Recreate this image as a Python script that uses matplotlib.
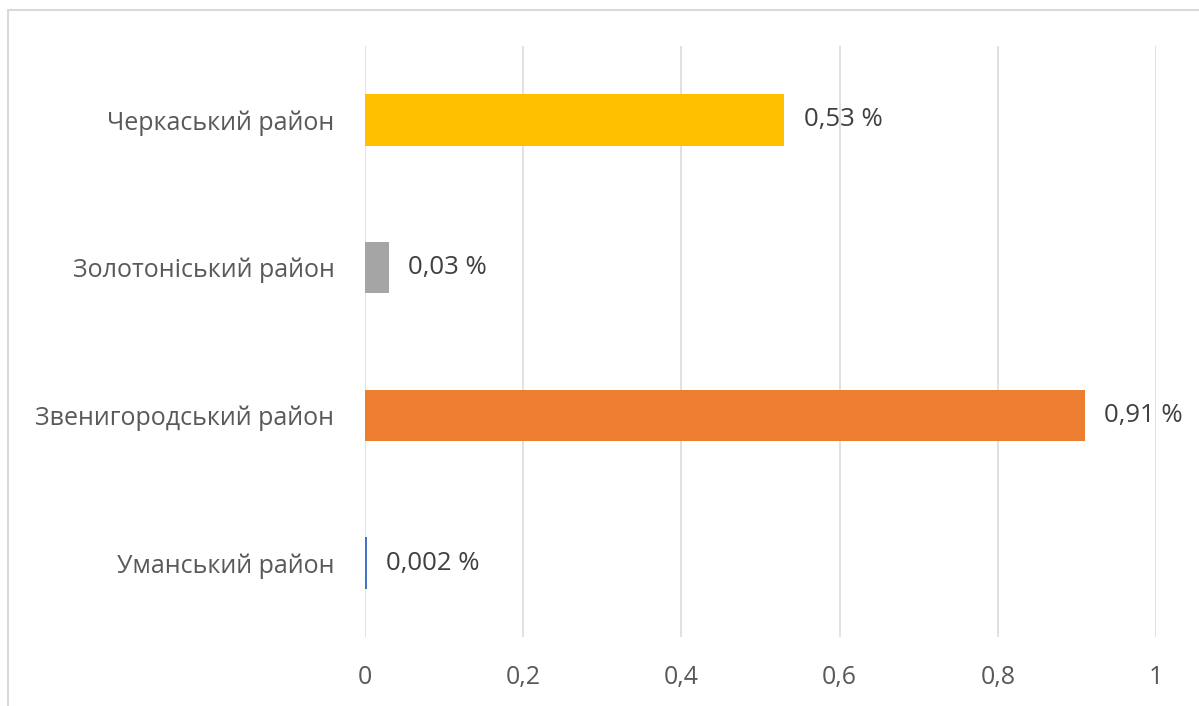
import matplotlib.pyplot as plt
from matplotlib.patches import Rectangle

# district names, bottom to top
districts = ["Уманський район", "Звенигородський район", "Золотоніський район", "Черкаський район"]
shares = [0.002, 0.91, 0.03, 0.53]
share_labels = ["0,002 %", "0,91 %", "0,03 %", "0,53 %"]
bar_colors = ["#4472C4", "#ED7D31", "#A5A5A5", "#FFC000"]
x_ticks = [0, 0.2, 0.4, 0.6, 0.8, 1.0]
x_tick_labels = ["0", "0,2", "0,4", "0,6", "0,8", "1"]

plt.rcParams["font.family"] = ["Open Sans", "DejaVu Sans"]
text_color = "#595959"
grid_color = "#D9D9D9"

fig = plt.figure(figsize=(11.99, 7.06), dpi=100)
ax = fig.add_axes([365 / 1199, 1 - 637 / 706, 791 / 1199, 591 / 706])

ypos = range(len(districts))
ax.barh(ypos, shares, height=0.35, color=bar_colors, zorder=3)

for y, v, lab in zip(ypos, shares, share_labels):
    ax.annotate(lab, (v, y), xytext=(14, 0), textcoords="offset points",
                va="center", ha="left", fontsize=18.5, color="#404040")

ax.set_xlim(0, 1)
ax.set_ylim(-0.5, len(districts) - 0.5)
ax.set_xticks(x_ticks)
ax.set_xticklabels(x_tick_labels)
ax.set_yticks(list(ypos))
ax.set_yticklabels(districts)
ax.tick_params(axis="x", length=0, pad=20, labelsize=18, labelcolor=text_color)
ax.tick_params(axis="y", length=0, pad=22, labelsize=18, labelcolor=text_color)
ax.grid(axis="x", color=grid_color, linewidth=1.1, zorder=0)
for s in ax.spines.values():
    s.set_visible(False)

# chart area border, cut off at right and bottom
fig.patches.append(Rectangle((8 / 1199, -0.1), 2, 1.1 - 10 / 706, transform=fig.transFigure,
                             fill=False, edgecolor=grid_color, linewidth=1.5))

fig.savefig("out.png", dpi=100)
